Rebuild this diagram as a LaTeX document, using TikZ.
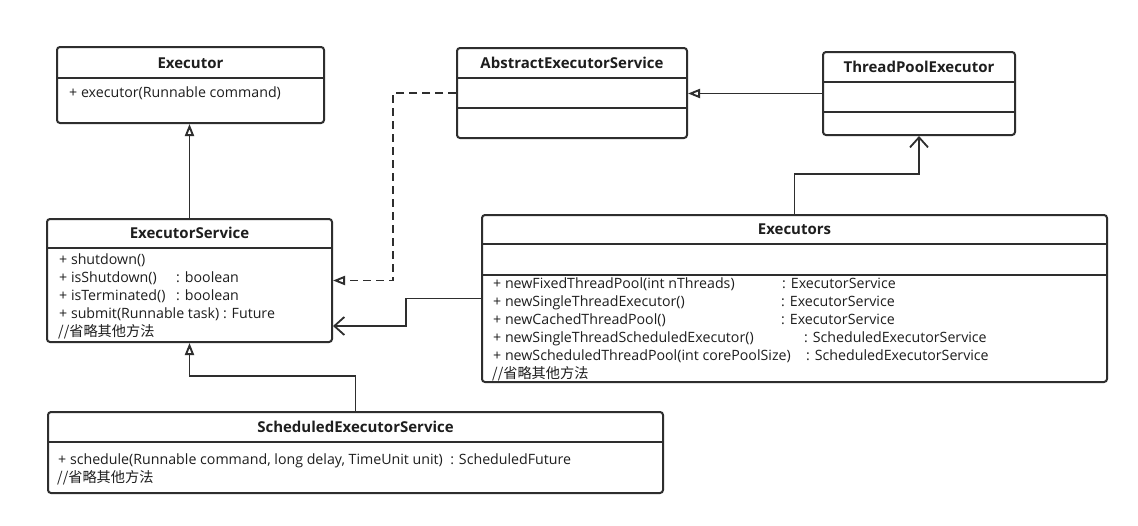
\documentclass[tikz,border=0pt]{standalone}
\usepackage{fontspec}
\setmainfont{Open Sans}
\newfontfamily\cjk{Noto Sans CJK SC}
\usetikzlibrary{arrows.meta}
\definecolor{lc}{HTML}{2E2E2E}
\definecolor{tc}{HTML}{1E1E1E}
\begin{document}
\begin{tikzpicture}[x=1pt,y=-1pt,
  cbox/.style={draw=lc, line width=2pt, rounded corners=3pt, fill=white, inner sep=0pt},
  divline/.style={draw=lc, line width=2pt},
  txt/.style={anchor=west, inner sep=0pt, text height=10pt, text depth=0pt, font=\fontsize{14.2}{16}\selectfont, text=tc},
  ttl/.style={inner sep=0pt, text height=10pt, text depth=0pt, font=\bfseries\fontsize{15}{17}\selectfont, text=tc},
  inh/.style={draw=lc, line width=1.8pt, -{Triangle[open, length=12pt, width=9pt, line width=1.9pt]}},
  realz/.style={inh, dash pattern=on 8pt off 5pt},
  dep/.style={draw=lc, line width=1.8pt, -{Straight Barb[length=10pt, width=18pt, line width=1.8pt]}}
]
\useasboundingbox[fill=white] (0,0) rectangle (1138,525);

% boxes
\node[cbox, minimum width=267pt, minimum height=76pt] (executor) at (190.5,85) {};
\node[cbox, minimum width=230pt, minimum height=90pt] (abs) at (572,93) {};
\node[cbox, minimum width=192pt, minimum height=83pt] (tp) at (919,93.5) {};
\node[cbox, minimum width=285pt, minimum height=123pt] (es) at (189.5,280.5) {};
\node[cbox, minimum width=625pt, minimum height=167pt] (exs) at (794.5,298.5) {};
\node[cbox, minimum width=615pt, minimum height=81pt] (sched) at (355.5,452.5) {};

% dividers
\draw[divline] (executor.west |- 0,78) -- (executor.east |- 0,78);
\draw[divline] (abs.west |- 0,78) -- (abs.east |- 0,78);
\draw[divline] (abs.west |- 0,108) -- (abs.east |- 0,108);
\draw[divline] (tp.west |- 0,82) -- (tp.east |- 0,82);
\draw[divline] (tp.west |- 0,112) -- (tp.east |- 0,112);
\draw[divline] (es.west |- 0,248) -- (es.east |- 0,248);
\draw[divline] (exs.west |- 0,244) -- (exs.east |- 0,244);
\draw[divline] (exs.west |- 0,275) -- (exs.east |- 0,275);
\draw[divline] (sched.west |- 0,442) -- (sched.east |- 0,442);

% titles
\node[ttl] (t1) at (190.5,63) {Executor};
\node[ttl] (t2) at (572,63) {AbstractExecutorService};
\node[ttl] (t3) at (919,67) {ThreadPoolExecutor};
\node[ttl] (t4) at (189.5,233.5) {ExecutorService};
\node[ttl] (t5) at (794.5,229.5) {Executors};
\node[ttl] (t6) at (355.5,427) {ScheduledExecutorService};

% Executor members
\node[txt] (e1) at (69,92) {+ executor(Runnable command)};

% ExecutorService members
\node[txt] (s1) at (59,259) {+ shutdown()};
\node[txt] (s2) at (59,277) {+ isShutdown()};
\node[txt] (s2b) at (176,277) {: boolean};
\node[txt] (s3) at (59,295) {+ isTerminated()};
\node[txt] (s3b) at (176,295) {: boolean};
\node[txt] (s4) at (59,313) {+ submit(Runnable task) : Future};
\node[txt] (s5) at (58,331) {\cjk //省略其他方法};

% Executors members
\node[txt] (x1) at (493,283) {+ newFixedThreadPool(int nThreads)};
\node[txt] (x1b) at (782,283) {: ExecutorService};
\node[txt] (x2) at (493,301) {+ newSingleThreadExecutor()};
\node[txt] (x2b) at (781,301) {: ExecutorService};
\node[txt] (x3) at (493,319) {+ newCachedThreadPool()};
\node[txt] (x3b) at (781,319) {: ExecutorService};
\node[txt] (x4) at (493,337) {+ newSingleThreadScheduledExecutor()};
\node[txt] (x4b) at (804,337) {: ScheduledExecutorService};
\node[txt] (x5) at (493,355) {+ newScheduledThreadPool(int corePoolSize)};
\node[txt] (x5b) at (806,355) {: ScheduledExecutorService};
\node[txt] (x6) at (492,373) {\cjk //省略其他方法};

% ScheduledExecutorService members
\node[txt] (c1) at (58,459) {+ schedule(Runnable command, long delay, TimeUnit unit)\ \ : ScheduledFuture};
\node[txt] (c2) at (57,477) {\cjk //省略其他方法};

% connectors
\draw[inh] (es.north) -- (es.north |- executor.south);
\draw[inh] (tp.west) -- (tp.west -| abs.east);
\draw[realz] (abs.west) -- ++(-63,0) |- (es.east);
\draw[dep] (exs.west) -- ++(-75,0) |- ([yshift=-45.5pt]es.east);
\draw[dep] (exs.north) -- ++(0,-40) -| (tp.south);
\draw[inh] (sched.north) -- ++(0,-35) -| (es.south);
\end{tikzpicture}
\end{document}
